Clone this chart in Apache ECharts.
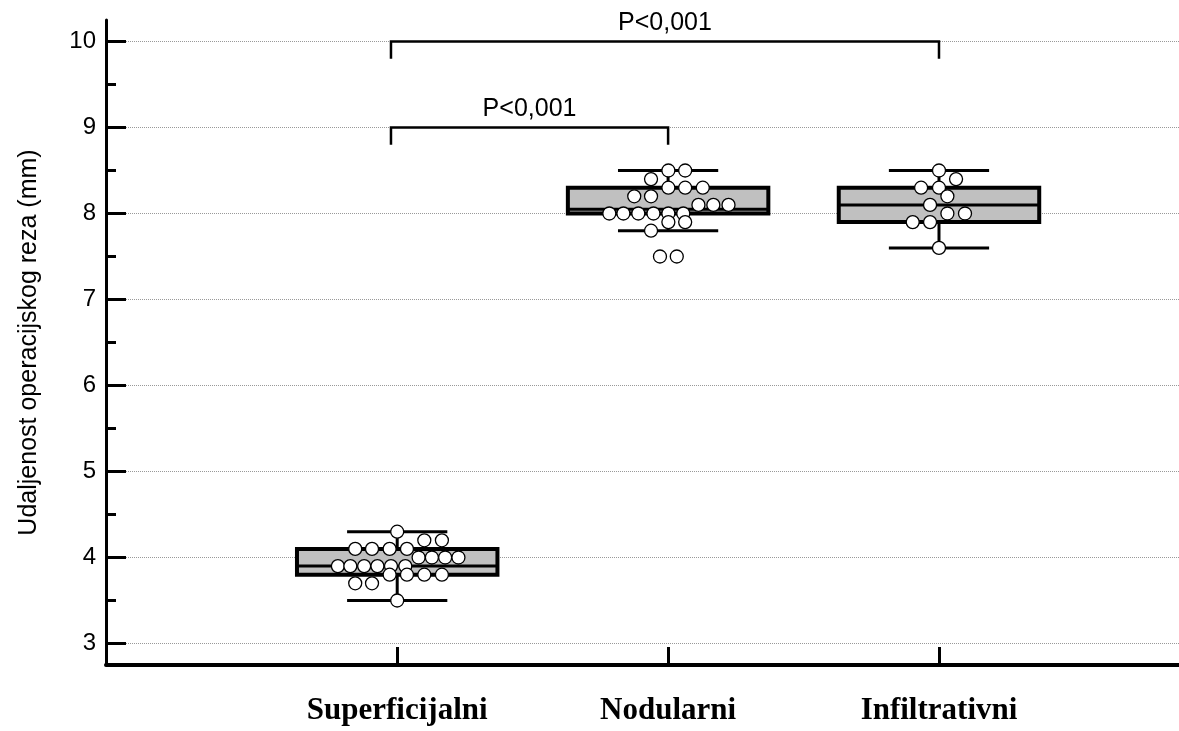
<!DOCTYPE html>
<html>
<head>
<meta charset="utf-8">
<title>Udaljenost operacijskog reza</title>
<script src="https://cdn.jsdelivr.net/npm/echarts@6.0.0/dist/echarts.min.js"></script>
<style>
  html, body { margin: 0; padding: 0; background: #fff; }
  #chart { width: 1179px; height: 731px; }
</style>
</head>
<body>
<div id="chart"></div>
<script>
// kategorije na x osi
const categories = ['Superficijalni', 'Nodularni', 'Infiltrativni'];

// box plot: donji brk, Q1, medijan, Q3, gornji brk
const whiskerLow = [3.5, 7.8, 7.6];
const q1 = [3.8, 8.0, 7.9];
const median = [3.9, 8.05, 8.1];
const q3 = [4.1, 8.3, 8.3];
const whiskerHigh = [4.3, 8.5, 8.5];

// pojedinacna mjerenja (vrijednost i polozaj tocke na x osi)
const superValues = [4.3, 4.2, 4.2, 4.1, 4.1, 4.1, 4.1, 4.0, 4.0, 4.0, 4.0,
  3.9, 3.9, 3.9, 3.9, 3.9, 3.9, 3.8, 3.8, 3.8, 3.8, 3.7, 3.7, 3.5];
const superX = [1.000, 1.100, 1.165, 0.845, 0.907, 0.972, 1.036, 1.079, 1.128, 1.177, 1.226,
  0.781, 0.827, 0.878, 0.927, 0.977, 1.030, 0.972, 1.036, 1.100, 1.165, 0.845, 0.907, 1.000];

const nodValues = [8.5, 8.5, 8.4, 8.3, 8.3, 8.3, 8.2, 8.2, 8.1, 8.1, 8.1,
  8.0, 8.0, 8.0, 8.0, 8.0, 8.0, 7.9, 7.9, 7.8, 7.5, 7.5];
const nodX = [2.001, 2.063, 1.937, 2.001, 2.063, 2.128, 1.875, 1.937, 2.112, 2.167, 2.223,
  1.783, 1.835, 1.890, 1.946, 2.001, 2.056, 2.001, 2.063, 1.937, 1.970, 2.032];

const infValues = [8.5, 8.4, 8.3, 8.3, 8.2, 8.1, 8.0, 8.0, 7.9, 7.9, 7.6];
const infX = [3.000, 3.063, 2.934, 3.000, 3.031, 2.967, 3.031, 3.096, 2.903, 2.967, 3.000];

// oznake znacajnosti
const bracketStart = [0.977, 0.977];
const bracketEnd = [3, 2];
const bracketLevel = [10, 9];
const bracketText = ['P<0,001', 'P<0,001'];

// oznake na y osi
const majorTicks = [3, 4, 5, 6, 7, 8, 9, 10];
const minorTicks = [3.5, 4.5, 5.5, 6.5, 7.5, 8.5, 9.5];

const BOX_HALF = 0.37;
const CAP_HALF = 0.185;
const LEG_DROP = 0.2;

const boxData = categories.map((c, i) => [i + 1, whiskerLow[i], q1[i], median[i], q3[i], whiskerHigh[i]]);
const dotData = []
  .concat(superX.map((x, i) => [x, superValues[i]]))
  .concat(nodX.map((x, i) => [x, nodValues[i]]))
  .concat(infX.map((x, i) => [x, infValues[i]]));
const bracketData = bracketStart.map((s, i) => [s, bracketEnd[i], bracketLevel[i], bracketText[i]]);

const chart = echarts.init(document.getElementById('chart'));

// crtanje jednog box plota
const renderBox = (params, api) => {
  const x = api.value(0);
  const pLo = api.coord([x, api.value(1)]);
  const pQ1 = api.coord([x, api.value(2)]);
  const pMed = api.coord([x, api.value(3)]);
  const pQ3 = api.coord([x, api.value(4)]);
  const pHi = api.coord([x, api.value(5)]);
  const hb = api.size([BOX_HALF, 0])[0];
  const hc = api.size([CAP_HALF, 0])[0];
  const cx = pLo[0];
  const ln = { stroke: '#000', lineWidth: 3 };
  return {
    type: 'group',
    children: [
      { type: 'line', shape: { x1: cx, y1: pHi[1], x2: cx, y2: pQ3[1] }, style: ln },
      { type: 'line', shape: { x1: cx, y1: pQ1[1], x2: cx, y2: pLo[1] }, style: ln },
      { type: 'line', shape: { x1: cx - hc, y1: pHi[1], x2: cx + hc, y2: pHi[1] }, style: ln },
      { type: 'line', shape: { x1: cx - hc, y1: pLo[1], x2: cx + hc, y2: pLo[1] }, style: ln },
      {
        type: 'rect',
        shape: { x: cx - hb, y: pQ3[1], width: 2 * hb, height: pQ1[1] - pQ3[1] },
        style: { fill: '#c0c0c0', stroke: '#000', lineWidth: 4 }
      },
      { type: 'line', shape: { x1: cx - hb, y1: pMed[1], x2: cx + hb, y2: pMed[1] }, style: ln }
    ]
  };
};

// crtanje zagrade s p vrijednoscu
const renderBracket = (params, api) => {
  const a = api.coord([api.value(0), api.value(2)]);
  const b = api.coord([api.value(1), api.value(2)]);
  const drop = api.size([0, LEG_DROP])[1];
  const text = bracketText[params.dataIndex];
  return {
    type: 'group',
    children: [
      {
        type: 'polyline',
        shape: { points: [[a[0], a[1] + drop], [a[0], a[1]], [b[0], b[1]], [b[0], b[1] + drop]] },
        style: { stroke: '#000', lineWidth: 2.5, fill: null }
      },
      {
        type: 'text',
        x: (a[0] + b[0]) / 2,
        y: a[1] - 6,
        style: {
          text: text,
          fill: '#000',
          font: '25px "Liberation Sans", Arial, sans-serif',
          textAlign: 'center',
          textVerticalAlign: 'bottom'
        }
      }
    ]
  };
};

const option = {
  animation: false,
  backgroundColor: '#fff',
  grid: { left: 106, right: 0, top: 20, bottom: 66 },
  xAxis: {
    type: 'value',
    min: -0.075,
    max: 3.886,
    axisLine: { show: true, onZero: false, lineStyle: { color: '#000', width: 4 } },
    axisTick: { inside: true, length: 18, customValues: [1, 2, 3], lineStyle: { color: '#000', width: 3 } },
    axisLabel: {
      customValues: [1, 2, 3],
      formatter: (v) => categories[Math.round(v) - 1],
      margin: 30,
      color: '#000',
      fontFamily: '"Liberation Serif", "Times New Roman", serif',
      fontWeight: 'bold',
      fontSize: 31
    },
    splitLine: { show: false }
  },
  yAxis: [
    {
      type: 'value',
      min: 2.75,
      max: 10.25,
      name: 'Udaljenost operacijskog reza (mm)',
      nameLocation: 'middle',
      nameGap: 64,
      nameTextStyle: { color: '#000', fontSize: 25, fontFamily: '"Liberation Sans", Arial, sans-serif' },
      axisLine: { show: true, onZero: false, lineStyle: { color: '#000', width: 3 } },
      axisTick: { inside: true, length: 20, customValues: majorTicks, lineStyle: { color: '#000', width: 3 } },
      axisLabel: {
        customValues: majorTicks,
        margin: 10,
        color: '#000',
        fontSize: 24,
        fontFamily: '"Liberation Sans", Arial, sans-serif'
      },
      splitLine: { show: true, lineStyle: { color: '#999', type: 'dotted', width: 1 } }
    },
    {
      type: 'value',
      min: 2.75,
      max: 10.25,
      position: 'left',
      axisLine: { show: false, onZero: false },
      axisTick: { show: true, inside: true, length: 10, customValues: minorTicks, lineStyle: { color: '#000', width: 3 } },
      axisLabel: { show: false },
      splitLine: { show: false }
    }
  ],
  series: [
    {
      type: 'custom',
      renderItem: renderBox,
      data: boxData,
      encode: { x: 0, y: [1, 2, 3, 4, 5] },
      z: 2
    },
    {
      type: 'scatter',
      data: dotData,
      symbol: 'circle',
      symbolSize: 13,
      itemStyle: { color: '#fff', borderColor: '#000', borderWidth: 1.3, opacity: 1 },
      z: 3
    },
    {
      type: 'custom',
      renderItem: renderBracket,
      data: bracketData,
      encode: { x: [0, 1], y: 2 },
      z: 2
    }
  ]
};

chart.setOption(option);

window.addEventListener('resize', () => {
  chart.resize();
});
</script>
</body>
</html>
